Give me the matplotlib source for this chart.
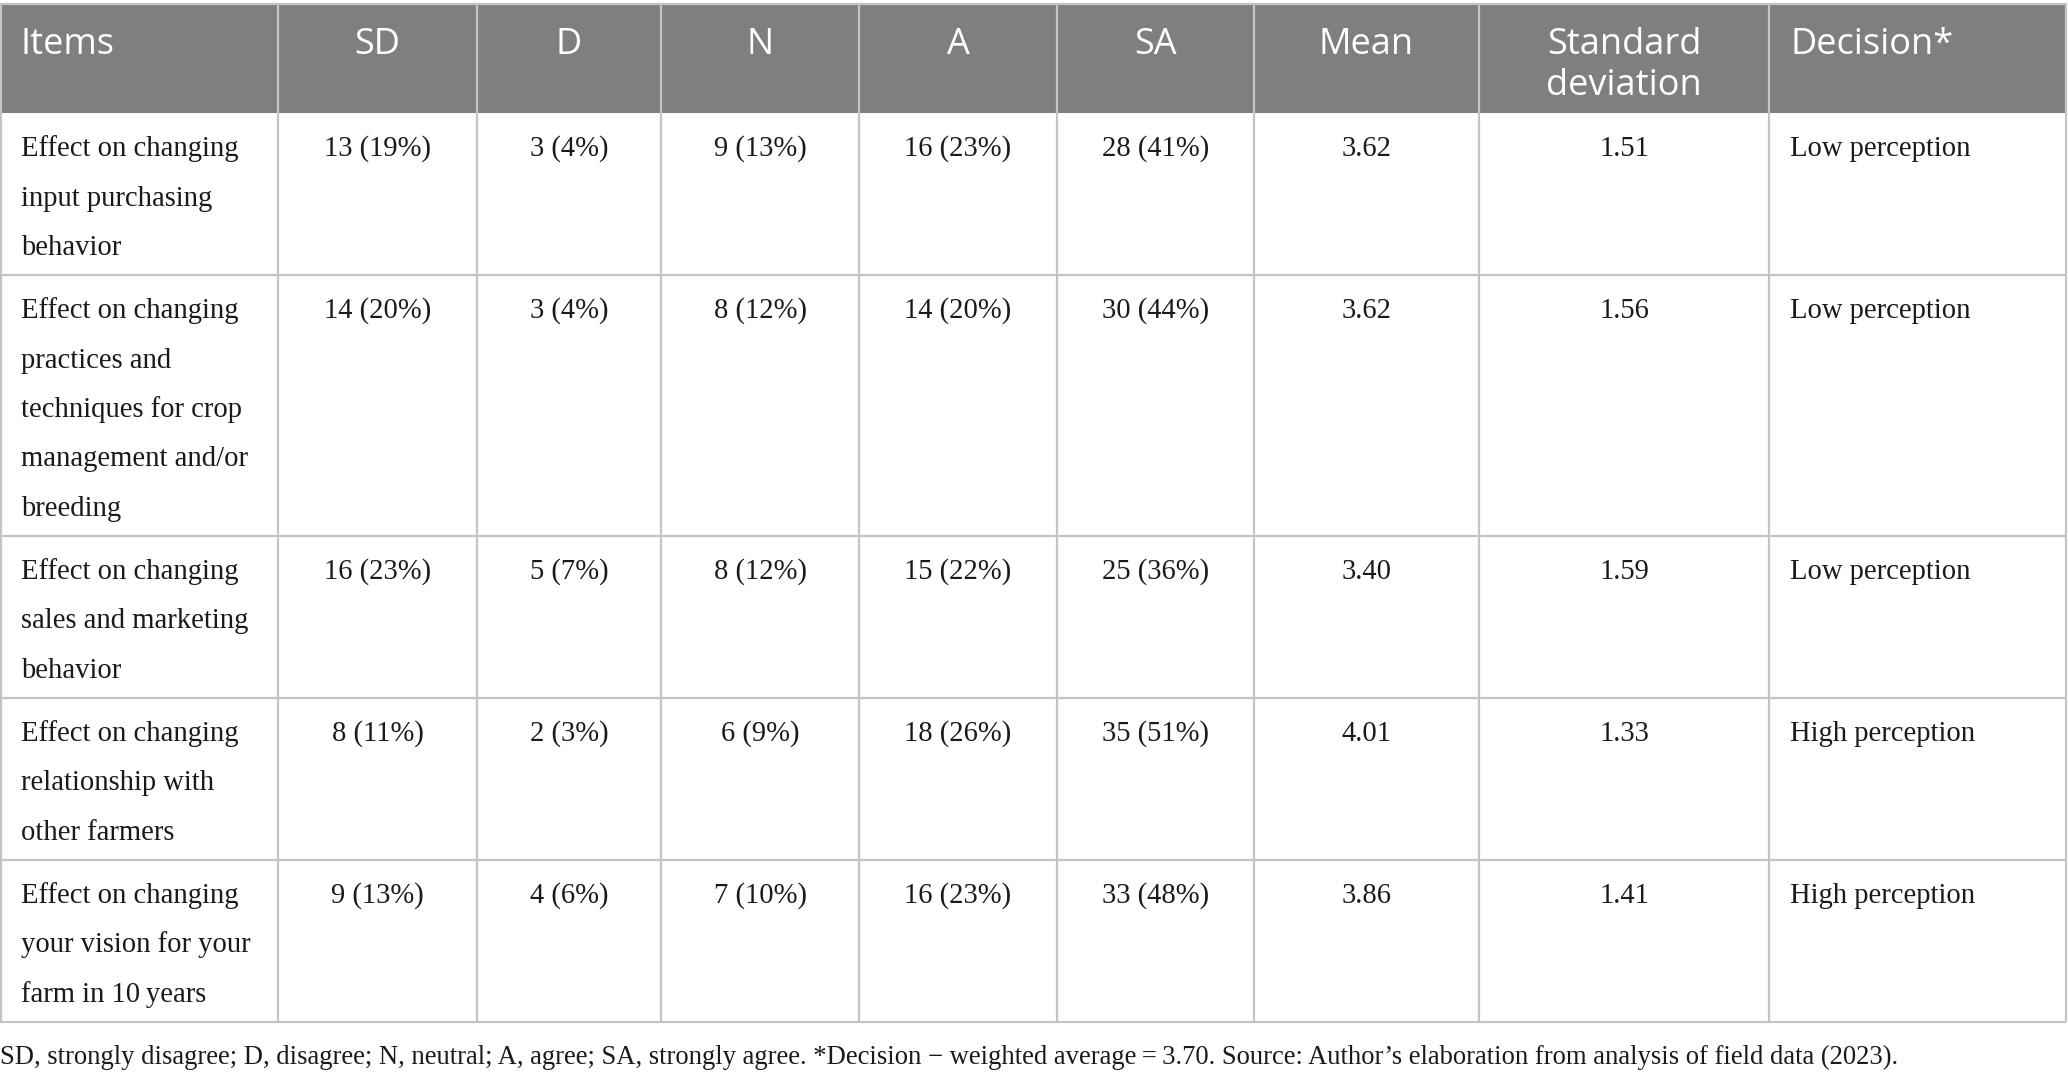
import matplotlib.pyplot as plt
from matplotlib.patches import Rectangle

# ── Table content ─────────────────────────────────────────────
headers = ["Items", "SD", "D", "N", "A", "SA", "Mean", "Standard\ndeviation", "Decision*"]

items = [
    ["Effect on changing", "input purchasing", "behavior"],
    ["Effect on changing", "practices and", "techniques for crop", "management and/or", "breeding"],
    ["Effect on changing", "sales and marketing", "behavior"],
    ["Effect on changing", "relationship with", "other farmers"],
    ["Effect on changing", "your vision for your", "farm in 10\u2009years"],
]

sd_n = [13, 14, 16, 8, 9]
sd_pct = [19, 20, 23, 11, 13]
d_n = [3, 3, 5, 2, 4]
d_pct = [4, 4, 7, 3, 6]
n_n = [9, 8, 8, 6, 7]
n_pct = [13, 12, 12, 9, 10]
a_n = [16, 14, 15, 18, 16]
a_pct = [23, 20, 22, 26, 23]
sa_n = [28, 30, 25, 35, 33]
sa_pct = [41, 44, 36, 51, 48]
means = [3.62, 3.62, 3.40, 4.01, 3.86]
stds = [1.51, 1.56, 1.59, 1.33, 1.41]
decisions = ["Low perception", "Low perception", "Low perception",
             "High perception", "High perception"]

footnote = ("SD, strongly disagree; D, disagree; N, neutral; A, agree; SA, strongly agree. "
            "*Decision \u2212 weighted average\u2009=\u20093.70. Source: Author\u2019s elaboration "
            "from analysis of field data (2023).")

# ── Layout (pixels) ───────────────────────────────────────────
W, H = 2068, 1076
col_edges = [0, 278, 477, 661, 859, 1057, 1254, 1479, 1769, 2066]
header_top, header_bot = 4, 113
line_h = 49.5
row_pad = 13.5
pad_x = 21

HEAD_BG = "#7f7f7f"
GRID = "#c4c4c4"
TXT = "#1a1a1a"
head_font = dict(family=["Open Sans", "DejaVu Sans"], fontsize=26, color="white")
body_font = dict(family=["Liberation Serif", "DejaVu Serif"], fontsize=20.6, color=TXT)
note_font = dict(family=["Liberation Serif", "DejaVu Serif"], fontsize=19.2, color=TXT)


def pct(n, p):
    return f"{n} ({p}%)"


rows = []
for i in range(len(items)):
    rows.append([
        items[i],
        pct(sd_n[i], sd_pct[i]),
        pct(d_n[i], d_pct[i]),
        pct(n_n[i], n_pct[i]),
        pct(a_n[i], a_pct[i]),
        pct(sa_n[i], sa_pct[i]),
        f"{means[i]:.2f}",
        f"{stds[i]:.2f}",
        decisions[i],
    ])

fig = plt.figure(figsize=(W / 100, H / 100), dpi=100)
ax = fig.add_axes([0, 0, 1, 1])
ax.set_xlim(0, W)
ax.set_ylim(H, 0)
ax.axis("off")

# header band
ax.add_patch(Rectangle((col_edges[0], header_top), col_edges[-1] - col_edges[0],
                       header_bot - header_top, color=HEAD_BG, lw=0))
for j, h in enumerate(headers):
    lines = h.split("\n")
    for k, ln in enumerate(lines):
        y = header_top + 50 + k * 41
        if j in (0, len(headers) - 1):
            ax.text(col_edges[j] + pad_x, y, ln, ha="left", va="baseline", **head_font)
        else:
            ax.text((col_edges[j] + col_edges[j + 1]) / 2, y, ln,
                    ha="center", va="baseline", **head_font)

# body rows
row_tops = [header_bot]
for r in rows:
    row_tops.append(row_tops[-1] + len(r[0]) * line_h + row_pad)

for i, r in enumerate(rows):
    top = row_tops[i]
    base = top + 43
    for k, ln in enumerate(r[0]):
        ax.text(col_edges[0] + pad_x, base + k * line_h, ln, ha="left", va="baseline", **body_font)
    for j in range(1, 8):
        ax.text((col_edges[j] + col_edges[j + 1]) / 2, base, r[j],
                ha="center", va="baseline", **body_font)
    ax.text(col_edges[8] + pad_x, base, r[8], ha="left", va="baseline", **body_font)

# grid lines
table_bot = row_tops[-1]
for y in row_tops[1:]:
    ax.plot([col_edges[0], col_edges[-1]], [y, y], color=GRID, lw=1.6, solid_capstyle="butt")
ax.plot([col_edges[0], col_edges[-1]], [header_top, header_top], color=GRID, lw=1.6)
for x in col_edges:
    ax.plot([x + (1 if x == 0 else 0), x + (1 if x == 0 else 0)], [header_top, table_bot],
            color=GRID, lw=1.6, solid_capstyle="butt")

ax.text(0, table_bot + 42, footnote, ha="left", va="baseline", **note_font)

fig.savefig("out.png", dpi=100)
